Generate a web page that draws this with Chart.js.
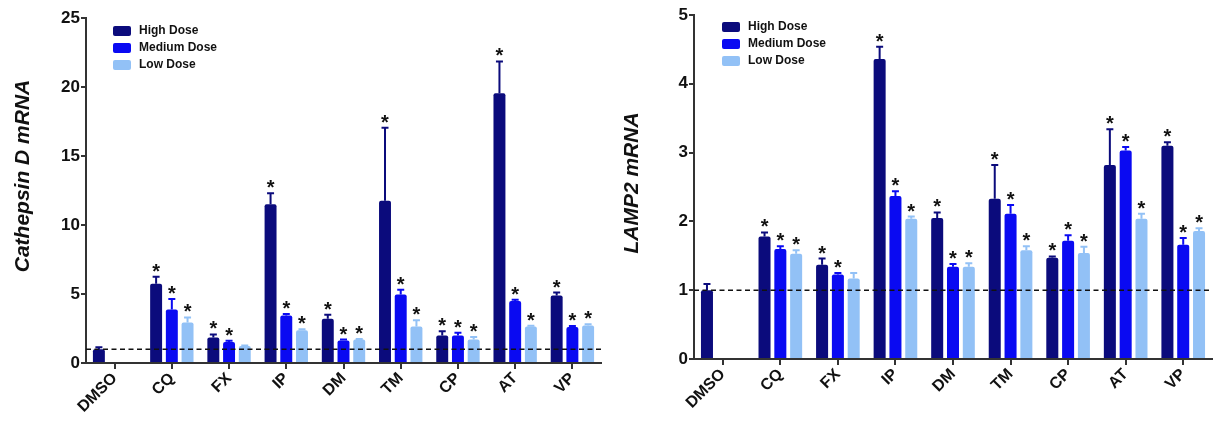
<!DOCTYPE html>
<html>
<head>
<meta charset="utf-8">
<script src="https://cdn.jsdelivr.net/npm/chart.js@4.4.1/dist/chart.umd.min.js"></script>
<style>
  body { margin: 0; background: #fff; }
  .box { position: absolute; top: 0; width: 609px; height: 422px; }
</style>
</head>
<body>
<div class="box" style="left:0"><canvas id="chart1"></canvas></div>
<div class="box" style="left:609px"><canvas id="chart2"></canvas></div>
<script>
// data
var categories = ["DMSO", "CQ", "FX", "IP", "DM", "TM", "CP", "AT", "VP"];
var doseLabels = ["High Dose", "Medium Dose", "Low Dose"];
var doseColors = ["#0b0b7c", "#0a0af2", "#92c1f6"];

// Cathepsin D mRNA
var catHigh = [1.0, 5.75, 1.85, 11.5, 3.2, 11.75, 2.0, 19.55, 4.9];
var catMed = [null, 3.88, 1.53, 3.45, 1.63, 4.97, 1.99, 4.5, 2.6];
var catLow = [null, 2.93, 1.23, 2.37, 1.7, 2.64, 1.7, 2.64, 2.72];
var catHighErr = [0.15, 0.5, 0.22, 0.8, 0.3, 5.3, 0.3, 2.3, 0.2];
var catMedErr = [0, 0.75, 0.08, 0.1, 0.07, 0.33, 0.21, 0.08, 0.08];
var catLowErr = [0, 0.37, 0.04, 0.08, 0.04, 0.45, 0.19, 0.06, 0.08];
var catSig = [
  [false, true, true, true, true, true, true, true, true],
  [false, true, true, true, true, true, true, true, true],
  [false, true, false, true, true, true, true, true, true],
];
var catTicks = [0, 5, 10, 15, 20, 25];

// LAMP2 mRNA
var lampHigh = [1.0, 1.78, 1.37, 4.36, 2.05, 2.33, 1.47, 2.82, 3.1];
var lampMed = [null, 1.6, 1.23, 2.37, 1.34, 2.11, 1.72, 3.03, 1.66];
var lampLow = [null, 1.53, 1.17, 2.04, 1.34, 1.58, 1.54, 2.04, 1.86];
var lampHighErr = [0.09, 0.06, 0.09, 0.18, 0.08, 0.49, 0.02, 0.52, 0.05];
var lampMedErr = [0, 0.04, 0.02, 0.07, 0.04, 0.13, 0.08, 0.05, 0.1];
var lampLowErr = [0, 0.05, 0.08, 0.03, 0.05, 0.06, 0.09, 0.07, 0.04];
var lampSig = catSig;
var lampTicks = [0, 1, 2, 3, 4, 5];

var FONT = "Arial, 'Liberation Sans', sans-serif";

// error bars + asterisks + dashed baseline + legend + axis title
var extrasPlugin = {
  id: "extras",
  afterDatasetsDraw: function (chart) {
    var ctx = chart.ctx;
    var y = chart.scales.y;
    var area = chart.chartArea;
    var ex = chart.options.plugins.extras;

    // dashed reference line at 1
    ctx.save();
    ctx.strokeStyle = "#111";
    ctx.lineWidth = 1.6;
    ctx.setLineDash([5, 3.5]);
    ctx.beginPath();
    ctx.moveTo(area.left, y.getPixelForValue(1));
    ctx.lineTo(area.right, y.getPixelForValue(1));
    ctx.stroke();
    ctx.restore();

    chart.data.datasets.forEach(function (ds, di) {
      var meta = chart.getDatasetMeta(di);
      meta.data.forEach(function (bar, i) {
        var v = ds.data[i];
        if (v === null || v === undefined) return;
        var top = y.getPixelForValue(v + ds.err[i]);
        ctx.save();
        ctx.strokeStyle = ds.backgroundColor;
        ctx.lineWidth = 2;
        ctx.beginPath();
        ctx.moveTo(bar.x, bar.y);
        ctx.lineTo(bar.x, top);
        ctx.moveTo(bar.x - 3.5, top);
        ctx.lineTo(bar.x + 3.5, top);
        ctx.stroke();
        if (ds.sig[i]) {
          ctx.fillStyle = "#111";
          ctx.font = "bold 20px " + FONT;
          ctx.textAlign = "center";
          ctx.textBaseline = "alphabetic";
          ctx.fillText("*", bar.x, top + 1);
        }
        ctx.restore();
      });
    });

    // legend
    ctx.save();
    chart.data.datasets.forEach(function (ds, di) {
      var ly = ex.legendY + di * 17;
      ctx.fillStyle = ds.backgroundColor;
      ctx.beginPath();
      ctx.roundRect(ex.legendX, ly - 5, 18, 10, 2);
      ctx.fill();
      ctx.fillStyle = "#111";
      ctx.font = "bold 12px " + FONT;
      ctx.textAlign = "left";
      ctx.textBaseline = "middle";
      ctx.fillText(ds.label, ex.legendX + 26, ly);
    });
    ctx.restore();

    // y axis title
    ctx.save();
    ctx.translate(ex.titleX, ex.titleY);
    ctx.rotate(-Math.PI / 2);
    ctx.fillStyle = "#111";
    ctx.font = "italic bold 21px " + FONT;
    ctx.textAlign = "center";
    ctx.textBaseline = "middle";
    ctx.fillText(ex.title, 0, 0);
    ctx.restore();
  },
};

function makeChart(id, series, errs, sig, ticks, title, pad, xh, legendY, titleY) {
  var ctx = document.getElementById(id).getContext("2d");
  return new Chart(ctx, {
    type: "bar",
    data: {
      labels: categories,
      datasets: series.map(function (s, k) {
        return {
          label: doseLabels[k],
          data: s,
          err: errs[k],
          sig: sig[k],
          backgroundColor: doseColors[k],
          borderRadius: { topLeft: 2, topRight: 2 },
          borderSkipped: "bottom",
        };
      }),
    },
    options: {
      animation: false,
      responsive: true,
      maintainAspectRatio: false,
      categoryPercentage: 0.824,
      barPercentage: 0.76,
      layout: { padding: pad },
      plugins: {
        legend: { display: false },
        tooltip: { enabled: false },
        extras: {
          legendX: 113,
          legendY: legendY,
          title: title,
          titleX: 23,
          titleY: titleY,
        },
      },
      scales: {
        x: {
          afterFit: function (s) { s.height = xh; },
          grid: {
            offset: false,
            drawOnChartArea: false,
            color: "#333",
            lineWidth: 2,
            tickLength: 6,
          },
          border: { color: "#333", width: 2 },
          ticks: {
            color: "#111",
            font: { family: FONT, size: 16, weight: "bold" },
            maxRotation: 45,
            minRotation: 45,
            padding: 0,
          },
        },
        y: {
          min: ticks[0],
          max: ticks[ticks.length - 1],
          afterFit: function (s) { s.width = pad.yw; },
          afterBuildTicks: function (s) {
            s.ticks = ticks.map(function (t) { return { value: t }; });
          },
          grid: {
            drawOnChartArea: false,
            color: "#333",
            lineWidth: 2,
            tickLength: 5,
          },
          border: { color: "#333", width: 2 },
          ticks: {
            color: "#111",
            font: { family: FONT, size: 17, weight: "bold" },
            padding: 1,
          },
        },
      },
    },
    plugins: [extrasPlugin],
  });
}

makeChart(
  "chart1",
  [catHigh, catMed, catLow],
  [catHighErr, catMedErr, catLowErr],
  catSig,
  catTicks,
  "Cathepsin D mRNA",
  { left: 0, right: 8, top: 18, bottom: 0, yw: 86 },
  59,
  31,
  176
);

makeChart(
  "chart2",
  [lampHigh, lampMed, lampLow],
  [lampHighErr, lampMedErr, lampLowErr],
  lampSig,
  lampTicks,
  "LAMP2 mRNA",
  { left: 0, right: 6, top: 15, bottom: 0, yw: 85 },
  63,
  27,
  183
);
</script>
</body>
</html>
